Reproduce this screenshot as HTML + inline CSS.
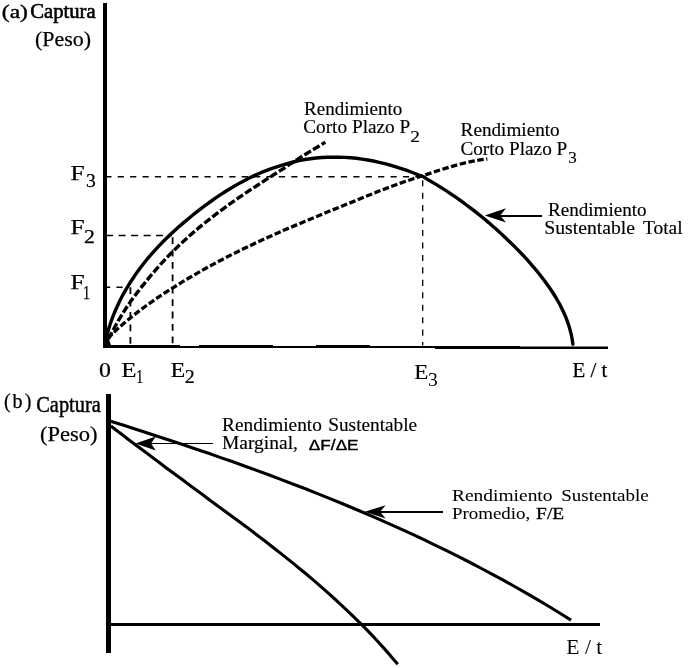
<!DOCTYPE html>
<html lang="es"><head><meta charset="utf-8"><title>Rendimiento Sustentable</title>
<style>
html,body{margin:0;padding:0;background:#fff;}
body{width:688px;height:668px;overflow:hidden;}
svg{display:block;}
text{fill:#000;font-family:'Liberation Serif',serif;white-space:pre;}
</style></head>
<body>
<svg width="688" height="668" viewBox="0 0 688 668" role="img" aria-label="Rendimiento sustentable: captura contra esfuerzo">
<rect width="688" height="668" fill="#fff"/>
<g id="graphics">
<path d="M105.3,176.8H422" stroke="#000" stroke-width="1.4" stroke-dasharray="6.2 6.2" fill="none"/>
<path d="M106.1,235.5H172" stroke="#000" stroke-width="1.4" stroke-dasharray="7 5.5" fill="none"/>
<path d="M104,287.3H124" stroke="#000" stroke-width="1.4" stroke-dasharray="6.2 6.2" fill="none"/>
<path d="M130.4,287.3V345" stroke="#000" stroke-width="1.8" stroke-dasharray="6.8 5.6" fill="none"/>
<path d="M172.6,237.2V345" stroke="#000" stroke-width="1.8" stroke-dasharray="6.8 5.6" fill="none"/>
<path d="M422.7,180.2V345.5" stroke="#000" stroke-width="1.3" stroke-dasharray="6.1 6.35" fill="none"/>
<rect x="103" y="3" width="4" height="345" fill="#000"/>
<path d="M103,345H180V346H199V345H273V346H316V345H370V346H520V346.6H608V349H435V348H103Z" fill="#000"/>
<path d="M103,337 L108,337 L111,345 L103,345 Z" fill="#000"/>
<rect x="106" y="394" width="5" height="259" fill="#000"/>
<rect x="107" y="623" width="493" height="3" fill="#000"/>
<path d="M107.0,335.0 L108.5,329.4 L110.3,323.8 L112.2,318.4 L114.3,313.0 L116.6,307.7 L119.0,302.5 L121.6,297.3 L124.3,292.3 L127.2,287.3 L130.2,282.5 L133.4,277.7 L136.6,272.9 L140.0,268.3 L143.5,263.7 L147.1,259.2 L150.8,254.9 L154.6,250.6 L158.5,246.4 L162.4,242.3 L166.5,238.3 L170.6,234.3 L174.8,230.4 L179.0,226.6 L183.4,222.9 L187.8,219.2 L192.2,215.5 L196.7,211.9 L201.3,208.3 L206.0,204.9 L210.7,201.5 L215.4,198.2 L220.2,194.9 L225.1,191.8 L230.0,188.7 L235.0,185.8 L240.0,182.9 L245.1,180.2 L250.2,177.6 L255.4,175.1 L260.7,172.8 L266.0,170.6 L271.4,168.6 L276.8,166.8 L282.3,165.1 L287.8,163.5 L293.4,162.0 L299.0,160.7 L304.7,159.5 L310.4,158.7 L316.1,158.0 L321.8,157.5 L327.5,157.2 L333.3,157.1 L339.0,157.2 L344.8,157.4 L350.6,157.8 L356.3,158.3 L362.0,159.1 L367.8,160.0 L373.4,161.0 L379.1,162.3 L384.7,163.6 L390.3,165.1 L395.9,166.8 L401.4,168.6 L406.9,170.4 L412.3,172.5 L417.6,174.6 L423.0,176.5 L423.0,176.5 L427.0,179.1 L431.1,181.5 L435.2,183.9 L439.2,186.4 L443.2,188.9 L447.2,191.4 L451.1,194.1 L455.0,196.7 L458.9,199.4 L462.7,202.2 L466.5,205.0 L470.3,207.8 L474.0,210.7 L477.7,213.6 L481.4,216.5 L485.0,219.5 L488.7,222.6 L492.2,225.7 L495.8,228.8 L499.3,232.0 L502.8,235.2 L506.2,238.4 L509.6,241.7 L513.0,245.0 L516.4,248.4 L519.7,251.8 L523.0,255.2 L526.2,258.7 L529.3,262.2 L532.4,265.8 L535.5,269.4 L538.5,273.0 L541.4,276.7 L544.3,280.5 L547.0,284.3 L549.7,288.1 L552.4,292.0 L554.9,296.0 L557.3,300.0 L559.6,304.0 L561.7,308.2 L563.7,312.4 L565.6,316.7 L567.3,321.1 L568.8,325.5 L570.1,330.0 L571.3,334.7 L572.2,339.4 L572.9,344.2" stroke="#000" stroke-width="3.4" fill="none" stroke-linejoin="round" stroke-linecap="round"/>
<path d="M108.4,339.0 L111.2,333.5 L114.1,328.2 L117.1,322.8 L120.2,317.6 L123.4,312.4 L126.6,307.3 L130.0,302.4 L133.4,297.6 L137.0,292.9 L140.6,288.2 L144.3,283.6 L148.1,278.9 L151.9,274.2 L155.9,269.6 L159.9,265.1 L164.0,260.6 L168.2,256.2 L172.4,251.9 L176.7,247.7 L181.1,243.5 L185.5,239.4 L190.1,235.3 L194.6,231.4 L199.3,227.4 L203.9,223.6 L208.7,219.8 L213.5,216.1 L218.3,212.4 L223.2,208.8 L228.1,205.2 L233.1,201.7 L238.1,198.2 L243.1,194.8 L248.1,191.4 L253.2,188.0 L258.3,184.7 L263.4,181.4 L268.6,178.0 L273.7,174.7 L278.9,171.4 L284.1,168.2 L289.2,164.7 L294.4,161.3 L299.6,158.0 L304.7,154.8 L309.9,151.6 L315.0,148.5 L320.2,145.3 L325.3,142.2" stroke="#000" stroke-width="3.4" stroke-dasharray="7.6 2.5" fill="none" stroke-linejoin="round"/>
<path d="M107.6,338.6 L112.7,333.5 L117.9,328.6 L123.3,323.8 L128.8,319.2 L134.4,314.7 L140.0,310.3 L145.8,306.0 L151.7,301.8 L157.6,297.7 L163.6,293.7 L169.7,289.8 L175.8,286.0 L181.9,282.2 L188.0,278.5 L194.2,274.9 L200.5,271.3 L206.7,267.8 L213.0,264.4 L219.4,261.0 L225.7,257.7 L232.1,254.4 L238.6,251.2 L245.0,248.1 L251.5,245.0 L258.0,241.9 L264.5,238.9 L271.1,236.0 L277.7,233.0 L284.2,230.1 L290.8,227.3 L297.5,224.5 L304.1,221.7 L310.7,218.9 L317.4,216.2 L324.1,213.4 L330.7,210.7 L337.4,208.0 L344.0,205.3 L350.7,202.6 L357.4,199.9 L364.0,197.1 L370.7,194.5 L377.3,191.8 L384.0,189.2 L390.8,186.7 L397.5,184.2 L404.3,181.8 L411.1,179.5 L417.9,177.3 L424.7,175.0 L431.6,172.8 L438.4,170.5 L445.3,168.4 L452.2,166.3 L459.1,164.4 L466.0,162.7 L473.1,161.2 L480.1,159.9 L487.3,159.0" stroke="#000" stroke-width="3.3" stroke-dasharray="6.5 2.5" fill="none" stroke-linejoin="round"/>
<path d="M110.6,421.3 L122.9,425.1 L135.1,429.0 L147.4,433.0 L159.6,436.9 L171.9,441.0 L184.1,445.0 L196.3,449.2 L208.6,453.3 L220.7,457.6 L232.9,461.8 L245.1,466.2 L257.2,470.6 L269.3,475.0 L281.4,479.6 L293.4,484.2 L305.5,488.8 L317.5,493.6 L329.4,498.4 L341.4,503.2 L353.3,508.2 L365.1,513.2 L377.0,518.4 L388.8,523.6 L400.5,528.9 L412.2,534.2 L423.9,539.7 L435.5,545.3 L447.1,550.9 L458.6,556.7 L470.1,562.5 L481.5,568.5 L492.9,574.6 L504.2,580.7 L515.5,587.0 L526.7,593.4 L537.9,599.9 L549.0,606.5 L560.0,613.2 L571.0,620.1" stroke="#000" stroke-width="3.1" fill="none" stroke-linejoin="round"/>
<path d="M110.9,426.1 L117.0,430.7 L123.0,435.3 L129.0,439.9 L135.1,444.5 L141.2,449.1 L147.3,453.6 L153.5,458.2 L159.6,462.8 L165.7,467.4 L171.9,472.0 L178.1,476.5 L184.2,481.1 L190.4,485.7 L196.6,490.2 L202.8,494.8 L208.9,499.4 L215.1,503.9 L221.2,508.4 L227.4,512.9 L233.5,517.4 L239.7,522.0 L245.8,526.5 L251.9,531.1 L257.9,535.7 L264.0,540.3 L270.0,545.0 L276.0,549.7 L282.0,554.4 L287.9,559.1 L293.9,563.9 L299.7,568.7 L305.6,573.5 L311.4,578.4 L317.2,583.4 L322.9,588.4 L328.6,593.4 L334.2,598.5 L339.8,603.6 L345.4,608.8 L350.9,614.1 L356.3,619.4 L361.7,624.7 L367.1,630.2 L372.4,635.7 L377.6,641.2 L382.7,646.9 L387.8,652.6 L392.8,658.4 L397.8,664.2" stroke="#000" stroke-width="3.1" fill="none" stroke-linejoin="round"/>
<path d="M498.3,216H542" stroke="#000" stroke-width="2.1" fill="none"/><path d="M484.8,215.4 L506.0,208.20000000000002 L500.3,215.4 L506.0,222.6 Z" fill="#000"/>
<path d="M149.0,443.5H213" stroke="#000" stroke-width="1.0" fill="none"/><path d="M135.5,443.6 L155.8,436.6 L151.0,443.6 L155.8,450.6 Z" fill="#000"/>
<path d="M378.1,511.9H443" stroke="#000" stroke-width="2.0" fill="none"/><path d="M364.6,511.8 L385.6,505.2 L380.1,511.8 L385.6,518.4 Z" fill="#000"/>
</g>
<g id="labels">
<text><tspan font-size="19" x="1.84" y="17.6" textLength="26.12" lengthAdjust="spacingAndGlyphs" stroke="#000" stroke-width="0.4">(a)</tspan> <tspan font-size="21" x="30.17" y="17.9" textLength="65.55" lengthAdjust="spacingAndGlyphs" stroke="#000" stroke-width="0.6">Captura</tspan></text>
<text><tspan font-size="20.5" x="35.01" y="46.3" textLength="55.98" lengthAdjust="spacingAndGlyphs" stroke="#000" stroke-width="0.25">(Peso)</tspan></text>
<text><tspan font-size="20" x="3.90" y="408.3" letter-spacing="2.050" stroke="#000" stroke-width="0.25">(b)</tspan> <tspan font-size="23" x="36.28" y="411.6" textLength="64.53" lengthAdjust="spacingAndGlyphs" stroke="#000" stroke-width="0.45">Captura</tspan></text>
<text><tspan font-size="20.7" x="39.98" y="440.7" textLength="57.64" lengthAdjust="spacingAndGlyphs" stroke="#000" stroke-width="0.25">(Peso)</tspan></text>
<text><tspan font-size="20" x="70.44" y="179.8" textLength="14.07" lengthAdjust="spacingAndGlyphs" stroke="#000" stroke-width="0.25">F</tspan><tspan font-size="17.8" x="86.02" y="186.6" textLength="9.76" lengthAdjust="spacingAndGlyphs" stroke="#000" stroke-width="0.25">3</tspan></text>
<text><tspan font-size="20" x="70.44" y="234.1" textLength="14.07" lengthAdjust="spacingAndGlyphs" stroke="#000" stroke-width="0.25">F</tspan><tspan font-size="17.8" x="84.02" y="242.6" textLength="10.88" lengthAdjust="spacingAndGlyphs" stroke="#000" stroke-width="0.25">2</tspan></text>
<text><tspan font-size="20" x="70.44" y="289.1" textLength="14.07" lengthAdjust="spacingAndGlyphs" stroke="#000" stroke-width="0.25">F</tspan><tspan font-size="17.8" x="83.04" y="299.2" textLength="7.00" lengthAdjust="spacingAndGlyphs" stroke="#000" stroke-width="0.25">1</tspan></text>
<text><tspan font-size="21" x="98.95" y="376.9" textLength="11.90" lengthAdjust="spacingAndGlyphs" stroke="#000" stroke-width="0.2">0</tspan></text>
<text><tspan font-size="21" x="121.25" y="376.8" textLength="15.21" lengthAdjust="spacingAndGlyphs" stroke="#000" stroke-width="0.2">E</tspan><tspan font-size="18" x="135.89" y="382.9" textLength="7.29" lengthAdjust="spacingAndGlyphs" stroke="#000" stroke-width="0.2">1</tspan></text>
<text><tspan font-size="21" x="170.48" y="376.8" textLength="14.75" lengthAdjust="spacingAndGlyphs" stroke="#000" stroke-width="0.2">E</tspan><tspan font-size="18" x="184.70" y="382.9" textLength="10.00" lengthAdjust="spacingAndGlyphs" stroke="#000" stroke-width="0.2">2</tspan></text>
<text><tspan font-size="21" x="414.21" y="378.9" textLength="14.06" lengthAdjust="spacingAndGlyphs" stroke="#000" stroke-width="0.15">E</tspan><tspan font-size="18.5" x="428.02" y="385.6" textLength="9.76" lengthAdjust="spacingAndGlyphs">3</tspan></text>
<text><tspan font-size="21" x="572.57" y="377.1" textLength="34.86" lengthAdjust="spacingAndGlyphs" stroke="#000" stroke-width="0.25">E / t</tspan></text>
<text><tspan font-size="21" x="566.35" y="654.4" textLength="35.99" lengthAdjust="spacingAndGlyphs">E / t</tspan></text>
<text><tspan font-size="18.2" x="304.03" y="114.6" textLength="98.26" lengthAdjust="spacingAndGlyphs" stroke="#000" stroke-width="0.15">Rendimiento</tspan></text>
<text><tspan font-size="18.2" x="303.23" y="133.2" textLength="107.06" lengthAdjust="spacingAndGlyphs" stroke="#000" stroke-width="0.15">Corto Plazo P</tspan><tspan font-size="17.5" x="410.32" y="141.8" textLength="9.75" lengthAdjust="spacingAndGlyphs" stroke="#000" stroke-width="0.12">2</tspan></text>
<text><tspan font-size="18" x="460.62" y="135.8" textLength="99.07" lengthAdjust="spacingAndGlyphs" stroke="#000" stroke-width="0.15">Rendimiento</tspan></text>
<text><tspan font-size="18" x="460.43" y="154.6" textLength="106.85" lengthAdjust="spacingAndGlyphs" stroke="#000" stroke-width="0.15">Corto Plazo P</tspan><tspan font-size="17.5" x="568.15" y="163.3" textLength="8.54" lengthAdjust="spacingAndGlyphs" stroke="#000" stroke-width="0.12">3</tspan></text>
<text><tspan font-size="18" x="547.93" y="215.5" textLength="98.66" lengthAdjust="spacingAndGlyphs" stroke="#000" stroke-width="0.15">Rendimiento</tspan></text>
<text><tspan font-size="18" x="544.32" y="233.8" textLength="90.78" lengthAdjust="spacingAndGlyphs" stroke="#000" stroke-width="0.15">Sustentable</tspan> <tspan font-size="18" x="642.91" y="233.8" textLength="39.79" lengthAdjust="spacingAndGlyphs" stroke="#000" stroke-width="0.15">Total</tspan></text>
<text><tspan font-size="18.2" x="222.02" y="430.6" textLength="99.88" lengthAdjust="spacingAndGlyphs" stroke="#000" stroke-width="0.15">Rendimiento</tspan> <tspan font-size="18.2" x="328.25" y="430.6" textLength="88.94" lengthAdjust="spacingAndGlyphs" stroke="#000" stroke-width="0.15">Sustentable</tspan></text>
<text><tspan font-size="18.2" x="222.02" y="448.9" textLength="75.90" lengthAdjust="spacingAndGlyphs" stroke="#000" stroke-width="0.15">Marginal,</tspan> <tspan font-size="14.4" font-family="'Liberation Sans',sans-serif" x="308.88" y="449.5" textLength="49.73" lengthAdjust="spacingAndGlyphs" stroke="#000" stroke-width="0.4">ΔF/ΔE</tspan></text>
<text><tspan font-size="17.3" x="452.02" y="501.1" textLength="100.48" lengthAdjust="spacingAndGlyphs" stroke="#000" stroke-width="0.05">Rendimiento</tspan> <tspan font-size="17.3" x="561.27" y="501.1" textLength="87.40" lengthAdjust="spacingAndGlyphs" stroke="#000" stroke-width="0.05">Sustentable</tspan></text>
<text><tspan font-size="17.3" x="452.03" y="519.4" textLength="78.17" lengthAdjust="spacingAndGlyphs" stroke="#000" stroke-width="0.05">Promedio,</tspan> <tspan font-size="17.3" x="536.12" y="519.4" textLength="28.05" lengthAdjust="spacingAndGlyphs" stroke="#000" stroke-width="0.3">F/E</tspan></text>
</g>
</svg>
</body></html>
